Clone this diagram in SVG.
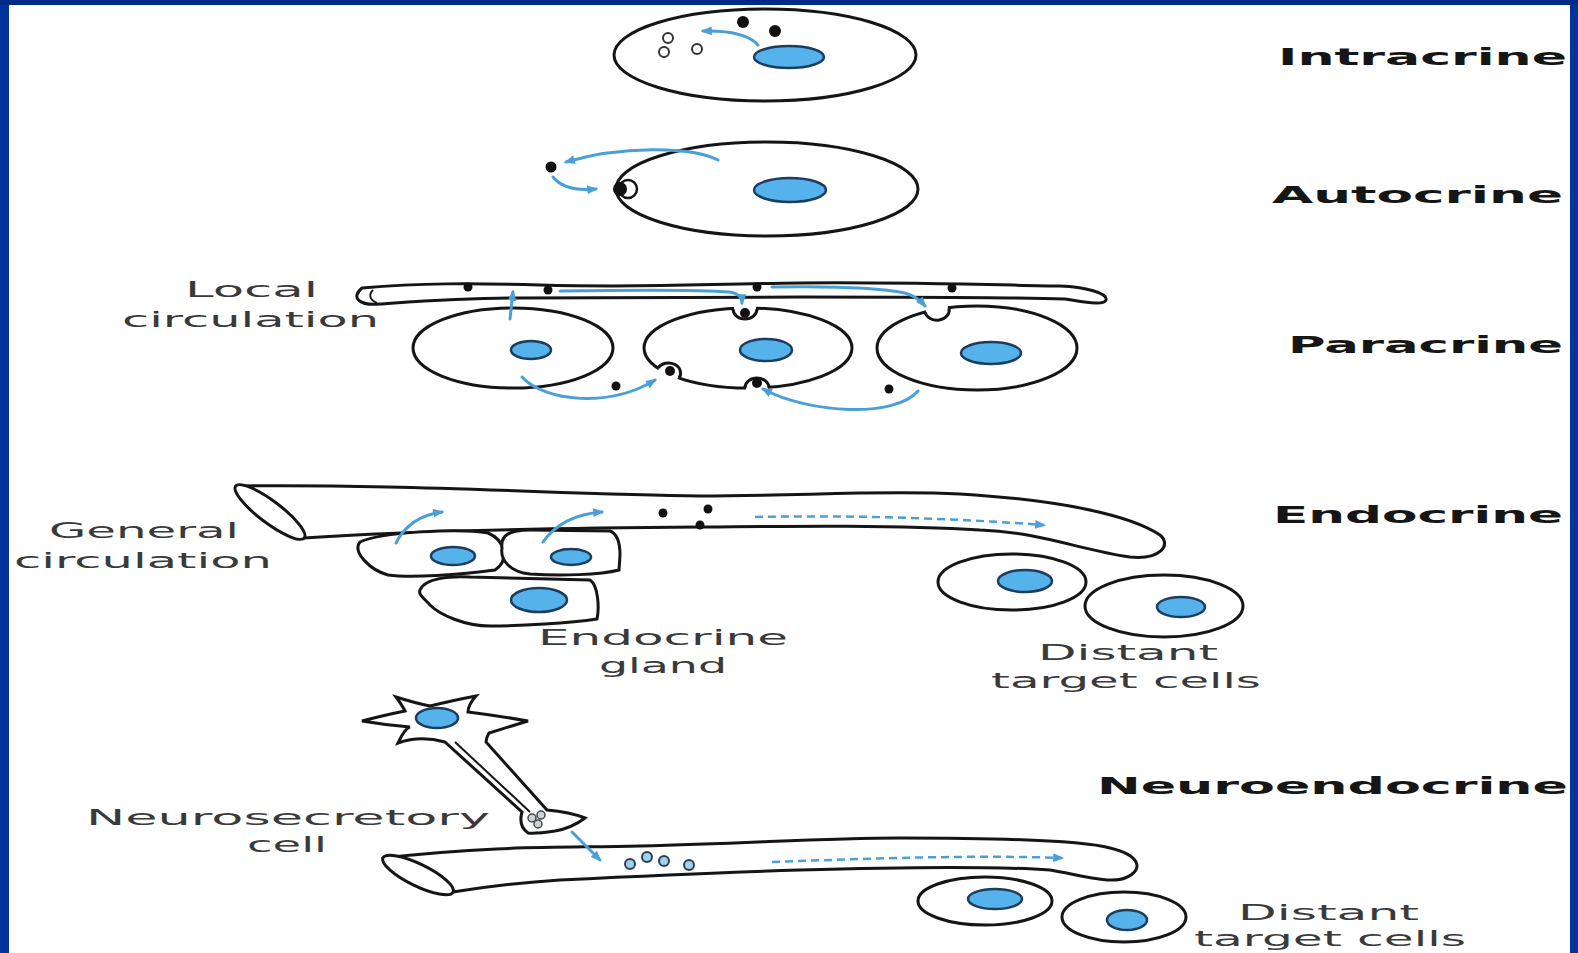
<svg xmlns="http://www.w3.org/2000/svg" width="1578" height="953" viewBox="0 0 1578 953">
<defs>
<marker id="ah" viewBox="0 0 10 10" refX="8" refY="5" markerWidth="11" markerHeight="11" markerUnits="userSpaceOnUse" orient="auto">
<path d="M0,1 L10,5 L0,9 Z" fill="#4a9fd8"/>
</marker>
<style>
.cell{fill:#fff;stroke:#151515;stroke-width:3}
.nuc{fill:#56b2ea;stroke:#1d3d5e;stroke-width:2.5}
.ves{fill:#fff;stroke:#151515;stroke-width:3;stroke-linejoin:round}
.dot{fill:#111}
.arr{fill:none;stroke:#4a9fd8;stroke-width:3;stroke-linecap:round;marker-end:url(#ah)}
.dash{fill:none;stroke:#4a9fd8;stroke-width:2.5;stroke-dasharray:8 5;marker-end:url(#ah)}
.gap{fill:none;stroke:#fff;stroke-width:6}
.notch{fill:#fff;stroke:#151515;stroke-width:3}
.vesic{fill:#9fd0f0;stroke:#2a3f55;stroke-width:2}
.lbl{font-family:"DejaVu Sans",Verdana,sans-serif;font-size:21px;fill:#3a3a3a}
.ttl{font-family:"DejaVu Sans",Verdana,sans-serif;font-size:23px;font-weight:bold;fill:#161616}
</style>
</defs>

<!-- page frame -->
<rect x="0" y="0" width="1578" height="953" fill="#fff"/>
<rect x="0" y="0" width="9" height="953" fill="#00349b"/>
<rect x="1570" y="0" width="8" height="953" fill="#00349b"/>
<rect x="0" y="0" width="1578" height="5" fill="#002b84"/>

<!-- Intracrine -->
<g id="intracrine">
<ellipse class="cell" cx="765" cy="55" rx="151" ry="46"/>
<ellipse class="nuc" cx="789" cy="57" rx="35" ry="11"/>
<circle class="dot" cx="743" cy="22" r="6"/>
<circle class="dot" cx="775" cy="31" r="6"/>
<circle cx="668" cy="38" r="5" fill="#fff" stroke="#333" stroke-width="2"/>
<circle cx="664" cy="52" r="5" fill="#fff" stroke="#333" stroke-width="2"/>
<circle cx="697" cy="49" r="5" fill="#fff" stroke="#333" stroke-width="2"/>
<text class="ttl" x="1278" y="65" textLength="289" lengthAdjust="spacingAndGlyphs">Intracrine</text>
</g>

<!-- Autocrine -->
<g id="autocrine">
<ellipse class="cell" cx="767" cy="189" rx="151" ry="47"/>
<ellipse class="nuc" cx="790" cy="190" rx="36" ry="12"/>
<circle cx="628" cy="189" r="9" fill="#fff" stroke="#151515" stroke-width="2.5"/>
<circle class="dot" cx="620" cy="189" r="7"/>
<circle class="dot" cx="551" cy="167" r="5.5"/>
<text class="ttl" x="1272" y="203" textLength="291" lengthAdjust="spacingAndGlyphs">Autocrine</text>
</g>

<!-- Paracrine -->
<g id="local-vessel">
<path class="ves" d="M 362,288 C 420,283 470,283 540,285 C 650,288 700,284 800,283 C 900,282 1000,285 1060,286 C 1085,287 1108,293 1106,300 C 1104,306 1085,302 1065,299 C 1000,297 900,297 800,297 C 700,297 600,298 520,298 C 460,298 410,302 380,304 C 360,306 350,298 362,288 Z"/>
<path d="M 373,290 C 368,295 370,300 377,303" fill="none" stroke="#151515" stroke-width="2"/>
<circle class="dot" cx="468" cy="287" r="4.5"/>
<circle class="dot" cx="548" cy="290" r="4.5"/>
<circle class="dot" cx="757" cy="287" r="4.5"/>
<circle class="dot" cx="952" cy="288" r="4.5"/>
<text class="lbl" x="185" y="297" textLength="133" lengthAdjust="spacingAndGlyphs">Local</text>
<text class="lbl" x="122" y="327" textLength="257" lengthAdjust="spacingAndGlyphs">circulation</text>
</g>
<g id="paracrine-cell-1">
<ellipse class="cell" cx="513" cy="348" rx="100" ry="40"/>
<ellipse class="nuc" cx="531" cy="350" rx="20" ry="9"/>
<circle class="dot" cx="616" cy="386" r="4.5"/>
</g>
<g id="paracrine-cell-2">
<ellipse class="cell" cx="748" cy="348" rx="104" ry="40"/>
<ellipse class="nuc" cx="766" cy="350" rx="26" ry="11"/>
<path class="gap" d="M 734,308.5 L 756,308.5"/>
<path class="notch" d="M 733,309 A 12 10 0 0 0 757,309"/>
<circle class="dot" cx="745" cy="313" r="5"/>
<path class="gap" d="M 659,368.5 L 678,377.5"/>
<path class="notch" d="M 658,368 A 12 10 0 0 1 679,378"/>
<circle class="dot" cx="670" cy="371" r="5"/>
<path class="gap" d="M 746,387.5 L 768,387.5"/>
<path class="notch" d="M 745,388 A 12 10 0 0 1 769,388"/>
<circle class="dot" cx="757" cy="383" r="5"/>
</g>
<g id="paracrine-cell-3">
<ellipse class="cell" cx="977" cy="348" rx="100" ry="42"/>
<ellipse class="nuc" cx="991" cy="353" rx="30" ry="11"/>
<path class="gap" d="M 926,311.5 L 948,308"/>
<path class="notch" d="M 925,312 A 12 10 0 0 0 949,308"/>
<circle class="dot" cx="889" cy="389" r="4.5"/>
<text class="ttl" x="1288" y="353" textLength="275" lengthAdjust="spacingAndGlyphs">Paracrine</text>
</g>

<!-- Endocrine -->
<g id="general-vessel">
<path class="ves" d="M 236,486 C 400,484 560,494 700,496 C 800,496 880,490 960,494 C 1060,500 1130,515 1160,535 C 1172,545 1160,560 1130,557 C 1080,550 1040,532 980,530 C 900,525 800,526 700,527 C 560,528 420,530 304,538 Z"/>
<ellipse class="ves" cx="270" cy="512" rx="43" ry="11" transform="rotate(37 270 512)"/>
<circle class="dot" cx="663" cy="513" r="4.5"/>
<circle class="dot" cx="708" cy="509" r="4.5"/>
<circle class="dot" cx="700" cy="525" r="4.5"/>
<text class="lbl" x="49" y="538" textLength="190" lengthAdjust="spacingAndGlyphs">General</text>
<text class="lbl" x="14" y="568" textLength="258" lengthAdjust="spacingAndGlyphs">circulation</text>
</g>
<g id="endocrine-gland">
<path class="cell" d="M 360,542 C 380,532 460,528 488,533 C 505,540 510,560 495,570 C 460,575 410,578 388,575 C 370,570 352,552 360,542 Z"/>
<ellipse class="nuc" cx="453" cy="556" rx="22" ry="9"/>
<path class="cell" d="M 502,548 C 500,535 510,530 530,530 L 610,531 C 618,534 620,545 620,555 L 619,570 C 600,575 560,576 530,574 C 510,572 500,560 502,548 Z"/>
<ellipse class="nuc" cx="571" cy="557" rx="20" ry="8"/>
<path class="cell" d="M 420,590 C 425,578 450,576 470,577 L 590,580 C 599,586 599,610 597,619 C 570,623 520,626 490,626 C 465,626 440,615 430,605 C 424,598 418,595 420,590 Z"/>
<ellipse class="nuc" cx="539" cy="600" rx="28" ry="12"/>
<text class="lbl" x="538" y="645" textLength="250" lengthAdjust="spacingAndGlyphs">Endocrine</text>
<text class="lbl" x="599" y="673" textLength="128" lengthAdjust="spacingAndGlyphs">gland</text>
</g>
<g id="endocrine-targets">
<ellipse class="cell" cx="1012" cy="582" rx="74" ry="28"/>
<ellipse class="nuc" cx="1025" cy="581" rx="27" ry="11"/>
<ellipse class="cell" cx="1164" cy="606" rx="79" ry="31"/>
<ellipse class="nuc" cx="1181" cy="607" rx="24" ry="10"/>
<text class="lbl" x="1038" y="660" textLength="180" lengthAdjust="spacingAndGlyphs">Distant</text>
<text class="lbl" x="991" y="688" textLength="270" lengthAdjust="spacingAndGlyphs">target cells</text>
<text class="ttl" x="1273" y="523" textLength="290" lengthAdjust="spacingAndGlyphs">Endocrine</text>
</g>

<!-- Neuroendocrine -->
<g id="neurosecretory-cell">
<path class="cell" d="M 445,742 Q 420,735 398,743 Q 405,728 410,727 Q 385,725 362,721 Q 385,715 405,711 Q 402,705 396,697 Q 415,703 430,706 Q 455,700 476,696 Q 468,705 468,712 Q 500,716 528,721 Q 505,728 489,733 Q 486,738 486,742 L 547,810 Q 570,812 585,818 Q 572,828 555,831 Q 535,834 528,833 Q 518,826 522,812 Z"/>
<path d="M 455,742 L 530,812" fill="none" stroke="#151515" stroke-width="2"/>
<ellipse class="nuc" cx="437" cy="718" rx="21" ry="10"/>
<circle cx="532" cy="818" r="4" fill="#c8d4de" stroke="#444" stroke-width="1.5"/>
<circle cx="541" cy="815" r="4" fill="#c8d4de" stroke="#444" stroke-width="1.5"/>
<circle cx="538" cy="824" r="4" fill="#c8d4de" stroke="#444" stroke-width="1.5"/>
<text class="lbl" x="86" y="825" textLength="404" lengthAdjust="spacingAndGlyphs">Neurosecretory</text>
<text class="lbl" x="247" y="852" textLength="80" lengthAdjust="spacingAndGlyphs">cell</text>
</g>
<g id="neuro-vessel">
<path class="ves" d="M 383,858 C 500,845 560,848 640,846 C 760,843 820,838 900,838 C 1000,838 1080,840 1110,848 C 1140,855 1145,870 1125,878 C 1110,884 1080,875 1050,870 C 990,866 900,867 800,870 C 700,873 640,876 560,880 C 510,883 480,888 453,892 Z"/>
<ellipse class="ves" cx="418" cy="875" rx="39" ry="11" transform="rotate(26 418 875)"/>
<circle class="vesic" cx="630" cy="864" r="5"/>
<circle class="vesic" cx="647" cy="857" r="5"/>
<circle class="vesic" cx="664" cy="861" r="5"/>
<circle class="vesic" cx="689" cy="865" r="5"/>
</g>
<g id="neuro-targets">
<ellipse class="cell" cx="985" cy="901" rx="67" ry="24"/>
<ellipse class="nuc" cx="995" cy="899" rx="27" ry="10"/>
<ellipse class="cell" cx="1124" cy="917" rx="62" ry="25"/>
<ellipse class="nuc" cx="1127" cy="920" rx="20" ry="10"/>
<text class="lbl" x="1238" y="920" textLength="181" lengthAdjust="spacingAndGlyphs">Distant</text>
<text class="lbl" x="1194" y="946" textLength="272" lengthAdjust="spacingAndGlyphs">target cells</text>
<text class="ttl" x="1097" y="794" textLength="471" lengthAdjust="spacingAndGlyphs">Neuroendocrine</text>
</g>

<!-- signalling connectors -->
<g id="connectors">
<path class="arr" d="M 758,45 Q 745,30 703,31"/>
<path class="arr" d="M 718,160 C 690,146 620,146 566,162"/>
<path class="arr" d="M 553,177 Q 565,192 596,189"/>
<path class="arr" d="M 510,319 L 513,292"/>
<path class="arr" d="M 560,291 C 620,290 690,289 730,292 C 740,294 742,298 742,303"/>
<path class="arr" d="M 772,287 C 830,286 880,288 905,293 C 915,296 920,300 925,306"/>
<path class="arr" d="M 522,377 C 545,402 610,408 655,380"/>
<path class="arr" d="M 918,391 C 895,418 810,414 763,389"/>
<path class="arr" d="M 396,543 C 405,525 420,515 442,512"/>
<path class="arr" d="M 543,542 C 555,525 575,514 602,512"/>
<path class="dash" d="M 755,517 C 850,515 950,518 1044,525"/>
<path class="arr" d="M 572,832 L 600,860"/>
<path class="dash" d="M 772,862 C 880,858 980,855 1062,858"/>
</g>
</svg>
